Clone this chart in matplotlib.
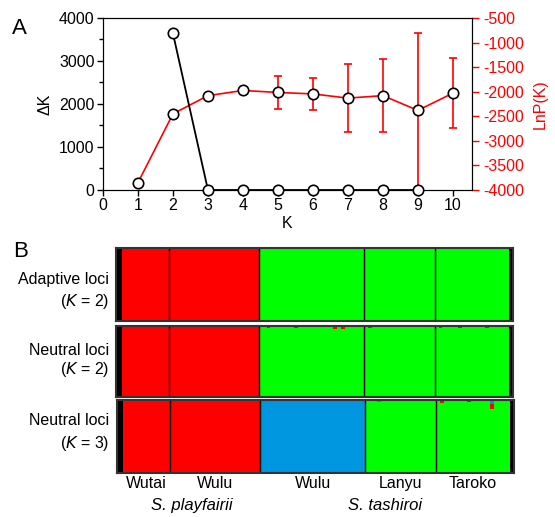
import numpy as np
import matplotlib
matplotlib.use("Agg")
import matplotlib.pyplot as plt

plt.rcParams["font.family"] = ["Liberation Sans", "DejaVu Sans"]
plt.rcParams["font.size"] = 11
plt.rcParams["axes.unicode_minus"] = False

# --- Panel A data ---
k_delta = [2, 3, 4, 5, 6, 7, 8, 9]
delta_k = [3640, 0, 0, 0, 0, 0, 0, 0]

k_lnp = [1, 2, 3, 4, 5, 6, 7, 8, 9, 10]
lnp_mean = [-3850, -2450, -2080, -1975, -2015, -2045, -2130, -2080, -2380, -2030]
lnp_sd = [0, 0, 0, 0, 330, 330, 700, 750, 1570, 710]

# --- Panel B data ---
pops = ["Wutai", "Wulu", "Wulu", "Lanyu", "Taroko"]
pop_sizes = [12, 23, 27, 18, 19]
species = ["S. playfairii", "S. tashiroi"]
species_pops = [[0, 1], [2, 3, 4]]
row_labels = ["Adaptive loci", "Neutral loci", "Neutral loci"]
row_k = [2, 2, 3]
# cluster of each population, per row (0 red, 1 green, 2 blue)
pop_cluster = [[0, 0, 1, 1, 1],
               [0, 0, 1, 1, 1],
               [0, 0, 2, 1, 1]]
# small admixture specks: (row, individual, cluster, fraction)
specks = [(1, 37, 0, 0.03), (1, 44, 0, 0.02), (1, 54, 0, 0.04), (1, 56, 0, 0.04),
          (1, 63, 0, 0.02), (1, 81, 0, 0.03), (1, 86, 0, 0.03), (1, 93, 0, 0.02),
          (2, 65, 2, 0.02), (2, 81, 0, 0.04), (2, 88, 0, 0.03),
          (2, 94, 2, 0.05), (2, 94, 0, 0.07)]
cluster_colors = ["#ff0000", "#00ff00", "#0096e0"]

fig = plt.figure(figsize=(5.55, 5.17), dpi=100)

# Panel A
ax = fig.add_axes([0.1856, 0.6325, 0.665, 0.3327])
ax2 = ax.twinx()
ax.set_zorder(2)
ax.patch.set_visible(False)

ax2.errorbar(k_lnp, lnp_mean, yerr=lnp_sd, color="#ff0000", lw=1.2,
             capsize=3, elinewidth=1.2, marker="o", ms=7.5, mfc="white",
             mec="black", mew=1.2, zorder=3)
ax.plot(k_delta, delta_k, color="black", lw=1.3, marker="o", ms=7.5,
        mfc="white", mec="black", mew=1.2, clip_on=False, zorder=4)

ax.set_xlim(0, 10.55)
ax.set_ylim(0, 4000)
ax.set_xticks(range(0, 11))
ax.set_yticks(range(0, 4001, 1000))
ax.set_yticks(range(500, 4000, 1000), minor=True)
ax.tick_params(axis="both", direction="out", length=4, width=1)
ax.tick_params(axis="y", which="minor", direction="out", length=3, width=1)
ax.tick_params(axis="both", labelsize=11.5, pad=2)
ax.set_ylabel("ΔK", fontsize=11.5, labelpad=5)
ax.set_xlabel("K", fontsize=11.5, labelpad=2)

ax2.set_ylim(-4000, -500)
ax2.set_yticks(range(-4000, -499, 500))
ax2.tick_params(axis="y", colors="#ff0000", direction="out", length=5,
                width=1, labelsize=11.5, pad=3)
ax2.set_ylabel("LnP(K)", color="#ff0000", fontsize=11.5, labelpad=6)
for s in ax2.spines.values():
    s.set_color("black")

fig.text(0.022, 0.935, "A", fontsize=16)
fig.text(0.024, 0.503, "B", fontsize=16)

# Panel B
n_ind = sum(pop_sizes)
bounds = np.cumsum([0] + pop_sizes)
row_rects = [[0.209, 0.379, 0.715, 0.141],
             [0.209, 0.232, 0.715, 0.137],
             [0.211, 0.085, 0.715, 0.141]]
label_y = [(0.460, 0.416), (0.323, 0.286), (0.186, 0.143)]

for r in range(3):
    axb = fig.add_axes(row_rects[r])
    q = np.zeros((n_ind, row_k[r]))
    for p in range(len(pops)):
        q[bounds[p]:bounds[p + 1], pop_cluster[r][p]] = 1.0
    for rr, ind, c, frac in specks:
        if rr == r:
            main = q[ind].argmax()
            q[ind, main] -= frac
            q[ind, c] += frac
    # main cluster from the bottom, minor clusters stacked on top
    for i in range(n_ind):
        main = q[i].argmax()
        order = [main] + [c for c in range(row_k[r]) if c != main]
        base = 0.0
        for c in order:
            if q[i, c] > 0:
                axb.bar(i, q[i, c], bottom=base, width=1.0, align="edge",
                        color=cluster_colors[c], linewidth=0,
                        antialiased=False)
                base += q[i, c]
    for b in bounds[1:-1]:
        axb.axvline(b, color="black", lw=1.0)
    axb.set_xlim(-1.5, n_ind + 1.0)
    axb.set_ylim(0, 1)
    axb.set_facecolor("black")
    axb.set_xticks([])
    axb.set_yticks([])
    for s in axb.spines.values():
        s.set_color("#333333")
        s.set_linewidth(1.5)
    fig.text(0.197, label_y[r][0], row_labels[r], ha="right",
             va="center", fontsize=11.5)
    fig.text(0.197, label_y[r][1], f"($K$ = {row_k[r]})",
             ha="right", va="center", fontsize=11.5)

    if r == 2:
        for p in range(len(pops)):
            xc = (bounds[p] + bounds[p + 1]) / 2
            axb.text(xc, -0.15, pops[p], ha="center", va="center",
                     fontsize=11.5, transform=axb.get_xaxis_transform())
        for s, members in enumerate(species_pops):
            xc = (bounds[members[0]] + bounds[members[-1] + 1]) / 2
            axb.text(xc, -0.44, species[s], ha="center", va="center",
                     fontsize=12, style="italic",
                     transform=axb.get_xaxis_transform())

fig.savefig("out.png", dpi=100)
